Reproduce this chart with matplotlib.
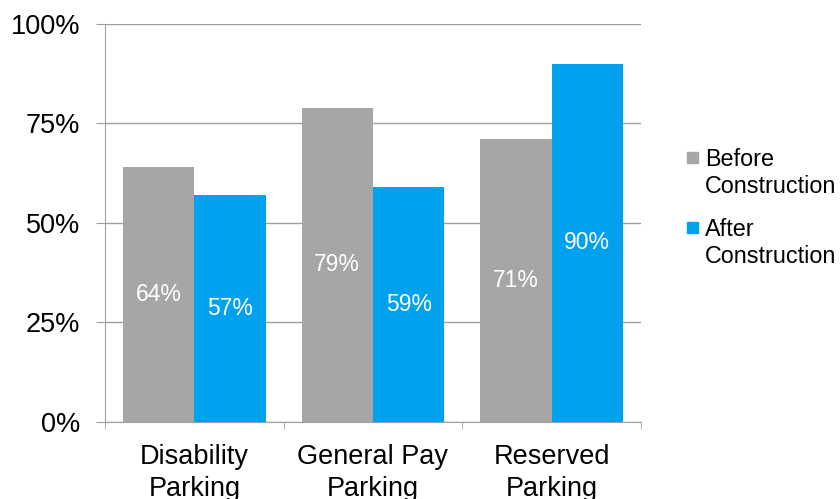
import matplotlib
matplotlib.use("Agg")
import matplotlib.pyplot as plt
import numpy as np
from matplotlib.patches import Rectangle

plt.rcParams['font.family'] = ['Liberation Sans', 'DejaVu Sans']

categories = ["Disability\nParking", "General Pay\nParking", "Reserved\nParking"]
series_names = ["Before\nConstruction", "After\nConstruction"]
before = [64, 79, 71]
after = [57, 59, 90]
colors = ["#A6A6A6", "#00A2EE"]
yticks = [0, 25, 50, 75, 100]

fig = plt.figure(figsize=(8.40, 4.99), dpi=100)
ax = fig.add_axes([0.125, 0.1543, 0.638, 0.7977])

x = np.arange(len(categories))
w = 0.4
for i, (vals, col) in enumerate(zip([before, after], colors)):
    pos = x + (i - 0.5) * w
    ax.bar(pos, vals, width=w, color=col, zorder=2)
    for p, v in zip(pos, vals):
        ax.text(p, v / 2, f"{v}%", ha="center", va="center",
                color="white", fontsize=16.5, zorder=3)

ax.set_xlim(-0.5, len(categories) - 0.5)
ax.set_ylim(0, 100)
ax.set_yticks(yticks)
ax.set_yticklabels([f"{t}%" for t in yticks], fontsize=19.5)
ax.set_xticks(x)
ax.set_xticklabels(categories, fontsize=19.5, linespacing=1.28)
ax.set_xticks(np.arange(len(categories) + 1) - 0.5, minor=True)
ax.tick_params(axis="x", which="major", length=0, pad=16)
ax.tick_params(axis="x", which="minor", length=5, color="#A0A0A0")
ax.tick_params(axis="y", length=6.5, color="#A0A0A0", pad=11.5)
ax.yaxis.grid(True, color="#A0A0A0", linewidth=1, zorder=0)
for s in ["top", "right"]:
    ax.spines[s].set_visible(False)
for s in ["left", "bottom"]:
    ax.spines[s].set_color("#A0A0A0")
ax.set_axisbelow(True)

# legend drawn in figure pixel coordinates
H = 499
for name, col, top in zip(series_names, colors, [152, 222]):
    fig.patches.append(Rectangle((687 / 840, 1 - (top + 11) / H), 11 / 840, 11 / H,
                                 transform=fig.transFigure, color=col))
    fig.text(705 / 840, 1 - (top - 4) / H, name, ha="left", va="top",
             fontsize=16.8, linespacing=1.2)

fig.savefig("out.png", dpi=100)
